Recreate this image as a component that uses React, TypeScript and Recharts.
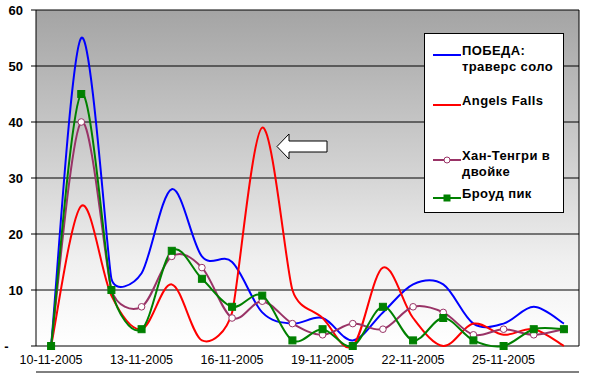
import React from 'react';
import { LineChart, Line, XAxis, YAxis, CartesianGrid, ReferenceLine } from 'recharts';

const dates = [
  '10-11-2005', '11-11-2005', '12-11-2005', '13-11-2005', '14-11-2005', '15-11-2005',
  '16-11-2005', '17-11-2005', '18-11-2005', '19-11-2005', '20-11-2005', '21-11-2005',
  '22-11-2005', '23-11-2005', '24-11-2005', '25-11-2005', '26-11-2005', '27-11-2005',
];
const pobeda = [0, 55, 12, 13, 28, 16, 15, 6, 4, 5, 1, 6, 11, 11, 4, 4, 7, 4];
const angels = [0, 25, 9, 3, 11, 1, 6, 39, 10, 5, 0, 14, 5, 0, 4, 2, 3, 0];
const khan = [0, 40, 10, 7, 16, 14, 5, 8, 4, 2, 4, 3, 7, 6, 2, 3, 2, 3];
const broad = [0, 45, 10, 3, 17, 12, 7, 9, 1, 3, 0, 7, 1, 5, 1, 0, 3, 3];
const yTicks = [0, 10, 20, 30, 40, 50, 60];
const labelStep = 3;

const seriesNames = ['ПОБЕДА: траверс соло', 'Angels Falls', 'Хан-Тенгри в двойке', 'Броуд пик'];
const legendLines = [['ПОБЕДА:', 'траверс соло'], ['Angels Falls'], ['Хан-Тенгри в', 'двойке'], ['Броуд пик']];

const rows = dates.map((d, i) => ({
  x: i,
  date: d,
  pobeda: pobeda[i],
  angels: angels[i],
  khan: khan[i],
  broad: broad[i],
}));

const labelTicks = dates.map((_, i) => i).filter((i) => i % labelStep === 0);
const boundaryTicks = labelTicks.map((i) => i - 0.5).concat([dates.length - 0.5]);

const FONT = '"Liberation Sans", Arial, sans-serif';

// Excel-like smoothed line (Bezier with 1/6 tangents, limited by neighbouring segments)
function excelCurve(context: any) {
  let pts: number[][] = [];
  return {
    areaStart() {},
    areaEnd() {},
    lineStart() {
      pts = [];
    },
    point(x: number, y: number) {
      pts.push([+x, +y]);
    },
    lineEnd() {
      const n = pts.length;
      if (n === 0) return;
      context.moveTo(pts[0][0], pts[0][1]);
      if (n === 1) return;
      const dist = (a: number[], b: number[]) => Math.hypot(a[0] - b[0], a[1] - b[1]);
      const tans = pts.map((p, i) => {
        const p0 = pts[Math.max(0, i - 1)];
        const p2 = pts[Math.min(n - 1, i + 1)];
        let tx = (p2[0] - p0[0]) / 6;
        let ty = (p2[1] - p0[1]) / 6;
        const len = Math.hypot(tx, ty);
        const lims: number[] = [];
        if (i > 0) lims.push(dist(pts[i - 1], p) / 2);
        if (i < n - 1) lims.push(dist(p, pts[i + 1]) / 2);
        const lim = Math.min(...lims);
        if (len > lim && len > 0) {
          tx *= lim / len;
          ty *= lim / len;
        }
        return [tx, ty];
      });
      for (let i = 0; i < n - 1; i++) {
        const p1 = pts[i];
        const p2 = pts[i + 1];
        context.bezierCurveTo(
          p1[0] + tans[i][0], p1[1] + tans[i][1],
          p2[0] - tans[i + 1][0], p2[1] - tans[i + 1][1],
          p2[0], p2[1]
        );
      }
    },
  };
}

const SquareDot = (props: any) => {
  const { cx, cy, index } = props;
  if (cx == null || cy == null) return <g key={`sq${index}`} />;
  return <rect key={`sq${index}`} x={cx - 3.5} y={cy - 3.5} width={7} height={7} fill="#008000" stroke="#008000" />;
};

const CircleDot = (props: any) => {
  const { cx, cy, index } = props;
  if (cx == null || cy == null) return <g key={`ci${index}`} />;
  return <circle key={`ci${index}`} cx={cx} cy={cy} r={3.3} fill="#ffffff" stroke="#993366" strokeWidth={1} />;
};

const colors = ['#0000ff', '#ff0000', '#993366', '#008000'];

const LegendSample = ({ color, marker }: { color: string; marker?: 'circle' | 'square' }) => (
  <svg width={28} height={10} style={{ position: 'absolute', left: 8, top: 4 }}>
    <line x1={0} y1={5} x2={28} y2={5} stroke={color} strokeWidth={2} />
    {marker === 'circle' && <circle cx={14} cy={5} r={3} fill="#fff" stroke={color} strokeWidth={1} />}
    {marker === 'square' && <rect x={10.5} y={1.5} width={7} height={7} fill={color} />}
  </svg>
);

const legendItems = [
  { name: seriesNames[0], lines: legendLines[0], color: colors[0], top: 12, marker: undefined },
  { name: seriesNames[1], lines: legendLines[1], color: colors[1], top: 62, marker: undefined },
  { name: seriesNames[2], lines: legendLines[2], color: colors[2], top: 117, marker: 'circle' as const },
  { name: seriesNames[3], lines: legendLines[3], color: colors[3], top: 155, marker: 'square' as const },
];

export default function App() {
  return (
    <div style={{ position: 'absolute', left: 0, top: 0, width: 589, height: 377, background: '#fff' }}>
      <LineChart width={589} height={377} data={rows} margin={{ top: 10, right: 10, bottom: 0, left: 0 }}>
        <defs>
          <linearGradient id="bg" x1="0" y1="0" x2="0" y2="1">
            <stop offset="0%" stopColor="#a4a4a4" />
            <stop offset="45%" stopColor="#d0d0d0" />
            <stop offset="75%" stopColor="#f0f0f0" />
            <stop offset="100%" stopColor="#ffffff" />
          </linearGradient>
        </defs>
        <CartesianGrid xAxisId="m" vertical={false} stroke="#000" fill="url(#bg)" fillOpacity={1} />
        <XAxis
          xAxisId="m"
          type="number"
          dataKey="x"
          domain={[-0.5, dates.length - 0.5]}
          ticks={boundaryTicks}
          tick={false}
          tickSize={5}
          height={5}
          axisLine={{ stroke: '#000' }}
          tickLine={{ stroke: '#000' }}
        />
        <XAxis
          xAxisId="l"
          type="number"
          dataKey="x"
          domain={[-0.5, dates.length - 0.5]}
          ticks={labelTicks}
          interval={0}
          tickFormatter={(v: number) => dates[v]}
          axisLine={false}
          tickLine={false}
          tickSize={4}
          tickMargin={5}
          height={26}
          tick={{ fill: '#000', fontSize: 12.5, fontFamily: FONT }}
        />
        <YAxis
          type="number"
          domain={[0, 60]}
          ticks={yTicks}
          interval={0}
          width={36}
          tickSize={5}
          tickMargin={8}
          axisLine={{ stroke: '#000' }}
          tickLine={{ stroke: '#000' }}
          tickFormatter={(v: number) => (v === 0 ? '-\u00A0\u00A0\u00A0\u00A0' : String(v))}
          tick={{ fill: '#000', fontSize: 13, fontWeight: 'bold', fontFamily: FONT }}
        />
        <ReferenceLine xAxisId="m" x={dates.length - 0.5} stroke="#000" />
        <Line xAxisId="m" dataKey="pobeda" name={seriesNames[0]} type={excelCurve as any} stroke={colors[0]} strokeWidth={2} dot={false} isAnimationActive={false} />
        <Line xAxisId="m" dataKey="angels" name={seriesNames[1]} type={excelCurve as any} stroke={colors[1]} strokeWidth={2} dot={false} isAnimationActive={false} />
        <Line xAxisId="m" dataKey="khan" name={seriesNames[2]} type={excelCurve as any} stroke={colors[2]} strokeWidth={2} dot={CircleDot} isAnimationActive={false} />
        <Line xAxisId="m" dataKey="broad" name={seriesNames[3]} type={excelCurve as any} stroke={colors[3]} strokeWidth={2} dot={SquareDot} isAnimationActive={false} />
      </LineChart>

      <svg width={589} height={377} style={{ position: 'absolute', left: 0, top: 0, pointerEvents: 'none' }}>
        <polygon
          points="277,146.5 289,134 289,141 327,141 327,152 289,152 289,159"
          fill="#ffffff"
          stroke="#000"
          strokeWidth={1}
        />
      </svg>

      <div
        style={{
          position: 'absolute',
          left: 424,
          top: 33,
          width: 138,
          height: 178,
          border: '1px solid #000',
          background: '#fff',
          fontFamily: FONT,
          fontSize: 13,
          letterSpacing: '0.4px',
          fontWeight: 'bold',
          lineHeight: '16px',
          color: '#000',
        }}
      >
        {legendItems.map((it) => (
          <div key={it.name} style={{ position: 'absolute', left: 0, top: it.top, width: 138 }}>
            <LegendSample color={it.color} marker={it.marker} />
            <div style={{ position: 'absolute', left: 37, top: -3, width: 100, whiteSpace: 'nowrap' }}>
              {it.lines.map((l, k) => (
                <div key={k}>{l}</div>
              ))}
            </div>
          </div>
        ))}
      </div>
    </div>
  );
}
